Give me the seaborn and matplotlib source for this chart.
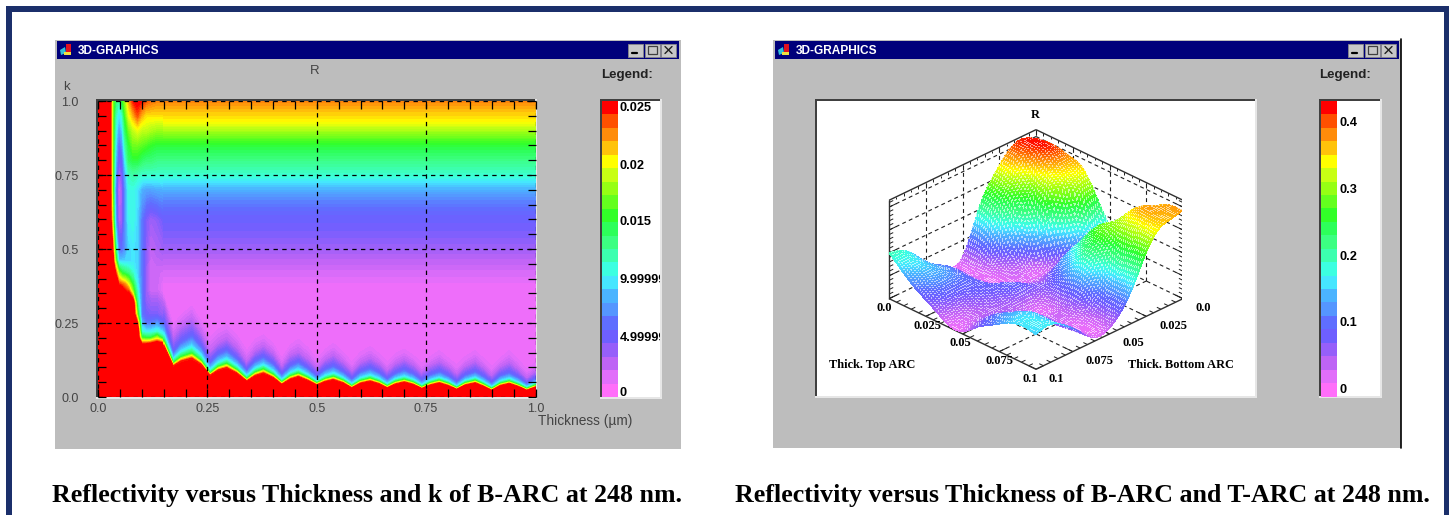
import numpy as np
import matplotlib
matplotlib.use('Agg')
import matplotlib.pyplot as plt
import seaborn as sns
from matplotlib.colors import ListedColormap, LinearSegmentedColormap, Normalize
from matplotlib.patches import Rectangle, Polygon
from matplotlib.tri import Triangulation, UniformTriRefiner
from mpl_toolkits.mplot3d.art3d import Line3DCollection

W, H = 1456, 515

# legend colours, bottom to top
band_rgb = [(255,110,250),(225,110,250),(190,100,245),(150,95,250),(110,95,255),(95,110,255),
            (85,150,255),(75,180,255),(70,230,255),(60,255,225),(60,255,175),(60,255,130),
            (45,255,90),(50,255,40),(100,255,30),(150,255,20),(200,255,20),(255,255,0),
            (255,195,10),(255,140,10),(255,80,0),(255,0,0)]

# left chart, R in 1e-3 : block for thin films
left_t = [0,.028,.033,.04,.0475,.055,.062,.07,.08,.09,.10,.11,.12,.135,.15]
left_k = [0,.15,.18,.20,.22,.25,.28,.32,.36,.38,.42,.46,.5,.6,.7,.75,.8,.85,.9,.95,1]
left_r = [
 [30,30,30,30,30,30,30,30,30,30,30,30,30,30,30],
 [30,30,30,30,30,30,30,30,30,30,30,30,30,30,30],
 [30,30,30,30,30,30,30,30,30,30,25,25,26,28,26],
 [30,30,30,30,30,30,30,30,30,30,16,15,15,19,13],
 [30,30,30,30,30,30,30,30,30,30,11,10,10,11,9],
 [30,30,30,30,30,30,30,30,30,25,8,6,6,7,5],
 [30,30,30,30,30,30,30,30,30,17,6,4.5,4,4,3],
 [30,30,30,30,30,30,30,30,28,13,6,3.5,3,3,2],
 [30,30,30,30,28,27,25,24,17,11,6,3,1.5,1.5,.5],
 [30,30,30,30,25,24,23,20,15,10,6,3,1.5,1.5,.5],
 [30,30,30,25,18,15,14,13,11,9,6,3,1.5,1.5,1.2],
 [30,30,28,18,9,9,9,9,9.5,9,6,3.5,1.5,2,2.2],
 [30,30,26,14,6,5.5,7,9,9.5,9,6,3.5,2,2.5,3],
 [30,27,20,8,2,3,7,10,10.5,9,6,4,3,3.5,4.5],
 [30,27,18,7,1,3,7,10.5,10.5,9.5,8,7.5,7.5,7.8,8],
 [30,27,18,8,2,4,8,11.5,12,11.5,11,11,11,11,11],
 [30,27,18,9,4,5,10,14,15,15,14,13.5,13.5,13,13],
 [30,27,18,10,5,7,12,15,17,17,16.5,16,15.5,15,15],
 [30,27,18,11,7,9,14,17,19,20,19,19,18.5,18,18],
 [30,27,18,12,9,11,16,20,22,24,22,21,21,21,21],
 [30,27,18,14,12,15,18,22,25,26,25,24,23.5,23,23],
]

# left chart, thicker films: k at which R crosses each level, per thickness
right_t = [.15,.172,.19,.214,.235,.256,.275,.294,.317,.34,.36,.378,.40,.42,.44,.458,.48,.50,.52,.538,.56,
           .58,.60,.622,.642,.661,.68,.70,.72,.74,.76,.78,.80,.82,.84,.862,.88,.90,.92,.94,.96,.98,1.0]
k_at_r25 = [.173,.104,.12,.13,.11,.072,.09,.098,.08,.053,.072,.08,.065,.042,.06,.068,.055,.04,.052,.058,.047,
            .03,.046,.053,.044,.03,.043,.05,.042,.028,.04,.047,.038,.025,.04,.047,.036,.022,.038,.045,.035,.022,.033]
k_at_r15 = [.192,.115,.136,.148,.124,.080,.103,.113,.092,.061,.084,.094,.076,.050,.071,.080,.065,.047,.062,.069,.056,
            .037,.055,.063,.053,.037,.052,.059,.050,.034,.048,.056,.046,.031,.048,.056,.044,.028,.046,.053,.042,.028,.040]
k_at_r10 = [.212,.128,.152,.168,.140,.090,.115,.127,.104,.070,.096,.107,.087,.057,.081,.091,.074,.053,.071,.079,.064,
            .043,.063,.072,.061,.043,.060,.068,.058,.040,.056,.064,.053,.036,.055,.064,.051,.033,.053,.061,.049,.033,.046]
k_at_r5 = [.250,.150,.185,.208,.172,.115,.145,.158,.130,.090,.122,.135,.112,.075,.105,.118,.096,.070,.094,.105,.085,
           .060,.085,.097,.082,.060,.080,.092,.078,.056,.075,.086,.072,.050,.074,.085,.070,.048,.072,.082,.066,.045,.062]
k_at_r2 = [.320,.200,.235,.262,.215,.150,.180,.195,.165,.115,.155,.170,.145,.100,.140,.150,.125,.095,.125,.140,.115,
           .085,.115,.130,.112,.085,.110,.125,.108,.080,.105,.118,.100,.075,.102,.118,.098,.070,.100,.115,.092,.062,.085]
k_at_r1 = [.345,.240,.275,.305,.255,.195,.225,.240,.205,.150,.190,.205,.175,.125,.170,.190,.160,.120,.155,.175,.145,
           .110,.145,.165,.140,.110,.140,.155,.135,.105,.130,.150,.125,.100,.130,.150,.125,.095,.125,.150,.120,.085,.110]
# above the minimum the bands run level
upper_k = [.37,.42,.47,.5,.55,.62,.68,.72,.75,.8,.85,.93,1.0]
upper_r = [.3,1.2,2.2,3,4,5,7,9,11,13,15,20.4,23]

# right chart, R in 1e-2, rows Thick. Top ARC, columns Thick. Bottom ARC
top_um = [0,.01,.02,.03,.04,.05,.06,.07,.08,.09,.10]
bottom_um = [0,.01,.02,.03,.04,.05,.06,.07,.08,.09,.10]
surface_r = [
 [38,42,39,31,19,3,1,5,12,18,20],
 [40,43,37,28,16,3,2,8,12,16,14],
 [39,40,31,20,8,1.5,2,8,12,13,9],
 [37,34,25,7,2,1,2.5,8,9,8,5],
 [28,25,10,3,2,3,7,8,6,3,1],
 [16,10,12,13,7,6,7,5,4,3,1],
 [8,15,24,20,12,5,1,3,6,8,6],
 [22,28,30,26,16,5,2,4,9,12,10],
 [33,37,32,22,12,4,1.5,5,12,15,14],
 [38,38,33,20,9,2,1,6,12,16,16],
 [38.5,37,33,21,9,2.5,1.5,7,13,16.5,15],
]

left_ticks = ['0.025','0.02','0.015','9.99999','4.99999','0']
left_tick_y = [108,166,222,280,338,393]
right_ticks = ['0.4','0.3','0.2','0.1','0']
right_tick_y = [123,190,257,323,390]

sns.set_theme(style='white')
plt.rcParams['font.family'] = ['Liberation Sans', 'DejaVu Sans']

bands = [tuple(c / 255 for c in rgb) for rgb in band_rgb]
band_cmap = ListedColormap(bands)
smooth_cmap = LinearSegmentedColormap.from_list('bands', bands, N=256)
left_edges = np.linspace(-.6, 25.6, 23)
right_edges = np.linspace(-.01, .434, 23)


def px_axes(x0, y0, x1, y1, **kw):
    return fig.add_axes([x0 / W, 1 - y1 / H, (x1 - x0) / W, (y1 - y0) / H], **kw)


fig = plt.figure(figsize=(W / 100, H / 100), dpi=100, facecolor='white')

# background in pixel coordinates
bg = px_axes(0, 0, W, H, zorder=0)
bg.set_xlim(0, W)
bg.set_ylim(H, 0)
bg.axis('off')

navy = '#1b2f6b'
gray = '#bdbdbd'
bg.add_patch(Rectangle((6, 6), 1443, 6, color=navy, lw=0))
bg.add_patch(Rectangle((6, 6), 6, 509, color=navy, lw=0))
bg.add_patch(Rectangle((1444, 6), 5, 509, color=navy, lw=0))


def window(x0, x1, y1):
    bg.add_patch(Rectangle((x0, 40), x1 - x0, y1 - 40, color=gray, lw=0))
    bg.add_patch(Rectangle((x0 + 2, 41), x1 - x0 - 4, 17.5, color='#00007b', lw=0))
    # icon
    bg.add_patch(Polygon([(x0 + 5, 50), (x0 + 10, 47), (x0 + 11, 53), (x0 + 6, 55)], color='#30c0d8', lw=0))
    bg.add_patch(Rectangle((x0 + 11, 44), 5, 8, color='#e01020', lw=0))
    bg.add_patch(Rectangle((x0 + 9, 52), 7, 3, color='#f0e040', lw=0))
    bg.text(x0 + 23, 50.5, '3D-GRAPHICS', color='white', fontsize=8.6, fontweight='bold', va='center', ha='left')
    # buttons
    bx = x1 - 53
    for i, mark in enumerate(['min', 'max', 'close']):
        bg.add_patch(Rectangle((bx + i * 16.5, 43.5), 15, 13, facecolor='#c8c8c8', edgecolor='#8a8a8a', lw=.6))
        cx = bx + i * 16.5 + 7.5
        if mark == 'min':
            bg.plot([cx - 4, cx + 1], [53, 53], color='black', lw=1.6)
        elif mark == 'max':
            bg.add_patch(Rectangle((cx - 4.5, 46), 9, 8, fill=False, edgecolor='#404040', lw=.9))
        else:
            bg.plot([cx - 3.5, cx + 3.5], [46.5, 53.5], color='#202020', lw=1)
            bg.plot([cx - 3.5, cx + 3.5], [53.5, 46.5], color='#202020', lw=1)


window(55, 681, 449)
window(773, 1401, 448)
bg.plot([1401, 1401], [39, 448], color='black', lw=1.2)

# sunken frames
for x0, y0, x1, y1 in [(96, 99, 537, 399), (600, 99, 662, 399), (815, 99, 1257, 398), (1319, 99, 1382, 398)]:
    bg.add_patch(Rectangle((x0, y0), x1 - x0, y1 - y0, color='#e6e6e6', lw=0))
    bg.add_patch(Rectangle((x0, y0), x1 - x0 - 2, y1 - y0 - 2, color='#404040', lw=0))
    bg.add_patch(Rectangle((x0 + 1.5, y0 + 1.5), x1 - x0 - 3.5, y1 - y0 - 3.5, color='white', lw=0))

# left map
ax = px_axes(98, 101, 535.5, 397, zorder=2)
fine_levels = np.linspace(left_edges[0], left_edges[-1], 67)
fine_colors = [smooth_cmap(i / 65) for i in range(66)]
main_levels = list(fine_levels[:-1]) + [100]
ax.contourf(left_t, left_k, np.array(left_r, dtype=float), levels=main_levels, colors=fine_colors)
n_cols = len(right_t)
iso_k = [np.zeros(n_cols), k_at_r25, k_at_r15, k_at_r10, k_at_r5, k_at_r2, k_at_r1] + [np.full(n_cols, k) for k in upper_k]
iso_r = [30, 25, 15, 10, 5, 2, .6] + upper_r
grid_t = np.tile(right_t, (len(iso_k), 1))
grid_k = np.array(iso_k, dtype=float)
grid_r = np.tile(np.array(iso_r, dtype=float).reshape(-1, 1), (1, n_cols))
ax.contourf(grid_t, grid_k, grid_r, levels=main_levels, colors=fine_colors)
ax.set_xlim(0, 1)
ax.set_ylim(0, 1)
ticks = [0, .25, .5, .75, 1]
ax.set_xticks(ticks, ['0.0', '0.25', '0.5', '0.75', '1.0'])
ax.set_yticks(ticks, ['0.0', '0.25', '0.5', '0.75', '1.0'])
ax.set_xticks(np.arange(0, 1.001, .05), minor=True)
ax.set_yticks(np.arange(0, 1.001, .05), minor=True)
ax.tick_params(which='minor', direction='in', length=6, width=.9, color='black',
               top=True, right=True, bottom=True, left=True)
ax.tick_params(which='major', direction='in', length=6, width=.9, color='black', labelsize=9,
               labelcolor='#444444', top=True, right=True, bottom=True, left=True)
ax.tick_params(axis='x', which='major', pad=4)
ax.tick_params(axis='y', which='major', pad=14)
ax.set_axisbelow(False)
ax.grid(True, which='major', color='black', linestyle=(0, (3.5, 3.5)), linewidth=.9)
for s in ax.spines.values():
    s.set_visible(False)

# legends as one column heatmaps
left_legend = px_axes(602, 101, 618, 397, zorder=2)
legend_cells = ((left_edges[:-1] + left_edges[1:]) / 2)[::-1].reshape(-1, 1)
sns.heatmap(legend_cells, ax=left_legend, cmap=band_cmap, vmin=left_edges[0], vmax=left_edges[-1],
            cbar=False, xticklabels=False, yticklabels=False)
right_legend = px_axes(1321, 101, 1337, 396.5, zorder=2)
legend_cells2 = ((right_edges[:-1] + right_edges[1:]) / 2)[::-1].reshape(-1, 1)
sns.heatmap(legend_cells2, ax=right_legend, cmap=band_cmap, vmin=right_edges[0], vmax=right_edges[-1],
            cbar=False, xticklabels=False, yticklabels=False)

# right chart, the surface
ax3 = px_axes(882, 103.5, 1182, 403.5, projection='3d', proj_type='ortho', computed_zorder=False, zorder=2)
ax3.view_init(elev=28.7, azim=45)
z_top = .43
ax3.set_box_aspect((1, 1, .54), zoom=1.018)
ax3.set_xlim(0, .1, view_margin=0)
ax3.set_ylim(0, .1, view_margin=0)
ax3.set_zlim(0, z_top, view_margin=0)
ax3.set_axis_off()
ax3.patch.set_visible(False)

bb, tt = np.meshgrid(bottom_um, top_um)
tri = Triangulation(bb.ravel(), tt.ravel())
rr = np.array(surface_r, dtype=float).ravel() / 100
tri_fine, r_fine = UniformTriRefiner(tri).refine_field(rr, subdiv=4)
r_fine = np.clip(r_fine, 0, z_top)
mesh = ax3.plot_trisurf(tri_fine, r_fine, cmap=smooth_cmap, norm=Normalize(right_edges[0], right_edges[-1]),
                        linewidth=0, antialiased=False, shade=False, zorder=3)
# original surface is a dot mesh: one small cell in four comes out pale
tris = tri_fine.get_masked_triangles()
cell = .1 / 160
cx = tri_fine.x[tris].mean(axis=1)
cy = tri_fine.y[tris].mean(axis=1)
norm3 = Normalize(right_edges[0], right_edges[-1])
face = smooth_cmap(norm3(r_fine[tris].mean(axis=1)))
gap = (np.floor(cx / cell) % 2 == 0) & (np.floor(cy / cell) % 2 == 0)
face[gap, :3] = .4 * face[gap, :3] + .6
mesh.set_array(None)
mesh.set_facecolor(face)

solid, dashed, tick_segs = [], [], []
m = .1
solid += [[(0, 0, z_top), (m, 0, z_top)], [(0, 0, z_top), (0, m, z_top)],
          [(m, 0, 0), (m, 0, z_top)], [(0, m, 0), (0, m, z_top)],
          [(m, 0, 0), (m, m, 0)], [(0, m, 0), (m, m, 0)]]
dashed += [[(0, 0, 0), (0, 0, z_top)], [(0, 0, 0), (m, 0, 0)], [(0, 0, 0), (0, m, 0)]]
for v in [.025, .05, .075]:
    dashed += [[(v, 0, 0), (v, 0, z_top)], [(0, v, 0), (0, v, z_top)],
               [(v, 0, 0), (v, m, 0)], [(0, v, 0), (m, v, 0)]]
for r in [.1, .2, .3, .4]:
    dashed += [[(0, 0, r), (m, 0, r)], [(0, 0, r), (0, m, r)]]
for i, v in enumerate(np.arange(0, .1001, .005)):
    zl = .022 if i % 5 == 0 else .011
    fl = .005 if i % 5 == 0 else .0028
    tick_segs += [[(v, 0, z_top), (v, 0, z_top - zl)], [(0, v, z_top), (0, v, z_top - zl)],
                  [(v, m, 0), (v, m - fl, 0)], [(m, v, 0), (m - fl, v, 0)]]
for i, r in enumerate(np.arange(0, z_top, .02)):
    fl = .005 if i % 5 == 0 else .0028
    tick_segs += [[(m, 0, r), (m - fl, 0, r)], [(0, m, r), (0, m - fl, r)]]
ax3.add_collection3d(Line3DCollection(dashed, colors='#202020', linewidths=.8, linestyles=[(0, (3.5, 3))], zorder=1))
ax3.add_collection3d(Line3DCollection(tick_segs, colors='#202020', linewidths=.7, zorder=1))
ax3.add_collection3d(Line3DCollection(solid, colors='#303030', linewidths=1, zorder=1))

# all the words, in pixel coordinates
ov = px_axes(0, 0, W, H, zorder=5)
ov.set_xlim(0, W)
ov.set_ylim(H, 0)
ov.axis('off')
ov.patch.set_alpha(0)

ink = '#444444'
ov.text(315, 71, 'R', fontsize=9.5, color=ink, ha='center', va='center')
ov.text(66, 87, 'k', fontsize=9.5, color=ink, ha='center', va='center')
ov.text(538, 421, 'Thickness (µm)', fontsize=9.9, color=ink, ha='left', va='center')

for lx, labels, ys, clip_rect, tx in [(601, left_ticks, left_tick_y, (618, 100, 42, 297), 620),
                                      (1319, right_ticks, right_tick_y, (1337, 100, 43, 296), 1340)]:
    ov.text(lx + 26, 75, 'Legend:', fontsize=9.6, fontweight='bold', color='#222222', ha='center', va='center')
    rect = Rectangle(clip_rect[:2], clip_rect[2], clip_rect[3], transform=ov.transData)
    for lab, y in zip(labels, ys):
        t = ov.text(tx, y, lab, fontsize=9.2, fontweight='bold', color='black', ha='left', va='center', clip_on=True)
        t.set_clip_path(rect)

serif = ['Liberation Serif', 'DejaVu Serif']
ov.text(1035, 115, 'R', family=serif, fontsize=9, fontweight='bold', ha='center', va='center', color='black')
for lab, x, y in [('0.0', 884, 308), ('0.025', 927, 326), ('0.05', 960, 343), ('0.075', 1000, 361), ('0.1', 1030, 379)]:
    ov.text(x, y, lab, family=serif, fontsize=9, fontweight='bold', ha='center', va='center', color='black')
for lab, x, y in [('0.0', 1203, 308), ('0.025', 1173, 326), ('0.05', 1133, 343), ('0.075', 1099, 361), ('0.1', 1056, 379)]:
    ov.text(x, y, lab, family=serif, fontsize=9, fontweight='bold', ha='center', va='center', color='black')
ov.text(829, 365, 'Thick. Top ARC', family=serif, fontsize=8.9, fontweight='bold', ha='left', va='center', color='black')
ov.text(1128, 365, 'Thick. Bottom ARC', family=serif, fontsize=8.9, fontweight='bold', ha='left', va='center', color='black')

ov.text(366.5, 495.5, 'Reflectivity versus Thickness and k of B-ARC at 248 nm.', family=serif, fontsize=18.6,
        fontweight='bold', ha='center', va='center', color='black')
ov.text(1082.5, 495.5, 'Reflectivity versus Thickness of B-ARC and T-ARC at 248 nm.', family=serif, fontsize=18.6,
        fontweight='bold', ha='center', va='center', color='black')

fig.savefig('out.png', dpi=100)
